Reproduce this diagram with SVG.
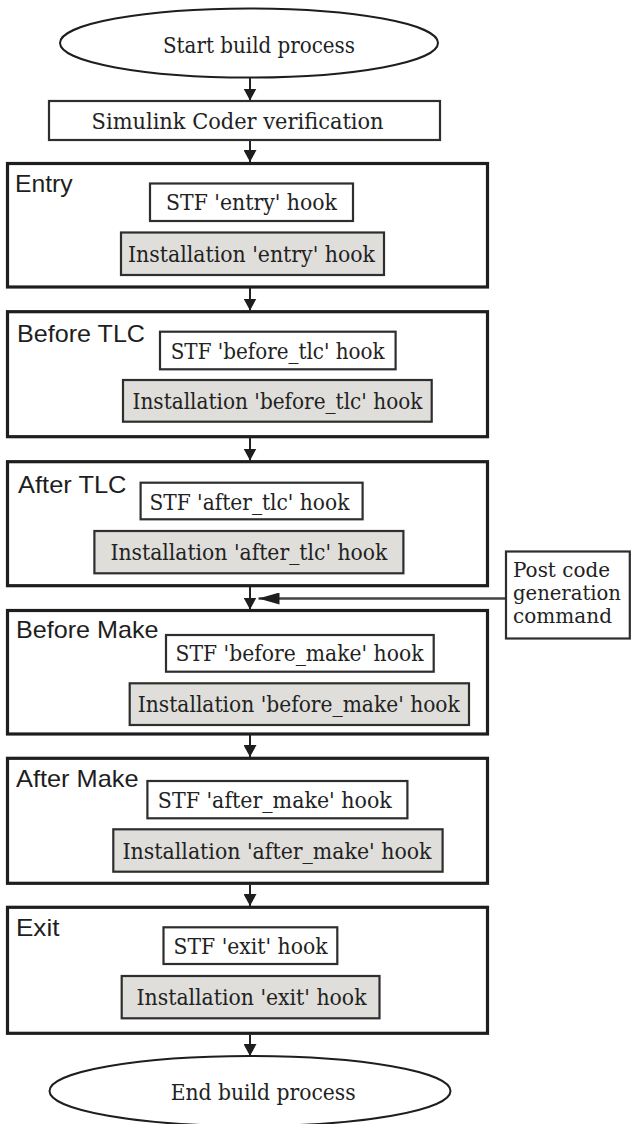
<svg xmlns="http://www.w3.org/2000/svg" width="631" height="1124" viewBox="0 0 631 1124">
<style>
.stage{fill:#fff;stroke:#1e1e1e;stroke-width:3.2}
.stf{fill:#fff;stroke:#2e2e2e;stroke-width:2.2}
.inst{fill:#dfdedb;stroke:#2e2e2e;stroke-width:2.2}
.term{fill:#fff;stroke:#1e1e1e;stroke-width:2}
.serif{font-family:"DejaVu Serif","Liberation Serif",serif;font-size:22px;fill:#222}
.note{font-family:"DejaVu Serif","Liberation Serif",serif;font-size:20px;fill:#222}
.sans{font-family:"Liberation Sans",Arial,sans-serif;font-size:24px;fill:#1e1e1e}
.conn{stroke:#222;stroke-width:2;fill:none}
.conn2{stroke:#444;stroke-width:2.6;fill:none}
</style>
<defs>
<marker id="ah" markerUnits="userSpaceOnUse" markerWidth="14" markerHeight="13" refX="12" refY="6.5" orient="auto">
<path d="M0,0 L12,6.5 L0,13 Z" fill="#1e1e1e"/>
</marker>
<marker id="ahL" markerUnits="userSpaceOnUse" markerWidth="22" markerHeight="12" refX="21" refY="6" orient="auto">
<path d="M0,0 L21,6 L0,12 Z" fill="#1e1e1e"/>
</marker>
</defs>

<g id="connectors">
<line class="conn" x1="250" y1="77.5" x2="250" y2="100.5" marker-end="url(#ah)"/>
<line class="conn" x1="250" y1="140" x2="250" y2="162" marker-end="url(#ah)"/>
<line class="conn" x1="250" y1="288" x2="250" y2="310.5" marker-end="url(#ah)"/>
<line class="conn" x1="250" y1="438" x2="250" y2="460.5" marker-end="url(#ah)"/>
<line class="conn" x1="250" y1="587" x2="250" y2="609.5" marker-end="url(#ah)"/>
<line class="conn" x1="250" y1="735" x2="250" y2="757" marker-end="url(#ah)"/>
<line class="conn" x1="250" y1="884.5" x2="250" y2="906" marker-end="url(#ah)"/>
<line class="conn" x1="250" y1="1034.5" x2="250" y2="1056" marker-end="url(#ah)"/>
<line class="conn2" x1="506" y1="598.5" x2="258.5" y2="598.5" marker-end="url(#ahL)"/>
</g>

<g id="start">
<ellipse class="term" cx="249" cy="43" rx="189" ry="34.5"/>
<text class="serif" x="163" y="52.5" textLength="192" lengthAdjust="spacingAndGlyphs">Start build process</text>
</g>

<g id="verify">
<rect class="stf" x="49" y="101" width="391" height="39"/>
<text class="serif" x="91.6" y="129" textLength="292" lengthAdjust="spacingAndGlyphs">Simulink Coder verification</text>
</g>

<g id="entry">
<rect class="stage" x="7.5" y="163.5" width="480" height="123.5"/>
<text class="sans" x="15" y="191.7" textLength="57.7" lengthAdjust="spacingAndGlyphs">Entry</text>
<rect class="stf" x="150" y="183.5" width="203" height="37.5"/>
<text class="serif" x="166" y="210" textLength="171" lengthAdjust="spacingAndGlyphs">STF 'entry' hook</text>
<rect class="inst" x="121" y="232.5" width="263" height="42.5"/>
<text class="serif" x="128" y="261.5" textLength="247" lengthAdjust="spacingAndGlyphs">Installation 'entry' hook</text>
</g>

<g id="before_tlc">
<rect class="stage" x="7.5" y="311.7" width="480" height="125"/>
<text class="sans" x="17" y="341.7" textLength="128" lengthAdjust="spacingAndGlyphs">Before TLC</text>
<rect class="stf" x="160" y="331.7" width="235.6" height="37.6"/>
<text class="serif" x="170.7" y="358.5" textLength="214" lengthAdjust="spacingAndGlyphs">STF 'before_tlc' hook</text>
<rect class="inst" x="123" y="380" width="308.7" height="41.7"/>
<text class="serif" x="132.5" y="409" textLength="290" lengthAdjust="spacingAndGlyphs">Installation 'before_tlc' hook</text>
</g>

<g id="after_tlc">
<rect class="stage" x="7.5" y="461.7" width="480" height="124"/>
<text class="sans" x="18" y="493" textLength="108.5" lengthAdjust="spacingAndGlyphs">After TLC</text>
<rect class="stf" x="140.6" y="482.7" width="222" height="36.6"/>
<text class="serif" x="149.4" y="509.5" textLength="200" lengthAdjust="spacingAndGlyphs">STF 'after_tlc' hook</text>
<rect class="inst" x="94.4" y="531" width="309" height="42.3"/>
<text class="serif" x="110.4" y="559.5" textLength="277" lengthAdjust="spacingAndGlyphs">Installation 'after_tlc' hook</text>
</g>

<g id="post_code">
<rect class="stf" x="506" y="551.5" width="123.8" height="87"/>
<text class="note" x="513" y="577" textLength="97" lengthAdjust="spacingAndGlyphs">Post code</text>
<text class="note" x="513" y="600" textLength="108" lengthAdjust="spacingAndGlyphs">generation</text>
<text class="note" x="513" y="623" textLength="99" lengthAdjust="spacingAndGlyphs">command</text>
</g>

<g id="before_make">
<rect class="stage" x="7.5" y="610.5" width="480" height="123.5"/>
<text class="sans" x="16" y="638" textLength="142.6" lengthAdjust="spacingAndGlyphs">Before Make</text>
<rect class="stf" x="166" y="635" width="267.7" height="36.7"/>
<text class="serif" x="175.5" y="661.3" textLength="248" lengthAdjust="spacingAndGlyphs">STF 'before_make' hook</text>
<rect class="inst" x="129.7" y="683.3" width="339.3" height="41.7"/>
<text class="serif" x="137.8" y="712" textLength="322" lengthAdjust="spacingAndGlyphs">Installation 'before_make' hook</text>
</g>

<g id="after_make">
<rect class="stage" x="7.5" y="758.3" width="480" height="125"/>
<text class="sans" x="16" y="786.7" textLength="122.5" lengthAdjust="spacingAndGlyphs">After Make</text>
<rect class="stf" x="147.4" y="781" width="260" height="37.3"/>
<text class="serif" x="157.8" y="807.7" textLength="234" lengthAdjust="spacingAndGlyphs">STF 'after_make' hook</text>
<rect class="inst" x="113.3" y="829.3" width="329.3" height="42.4"/>
<text class="serif" x="122.5" y="858.5" textLength="309" lengthAdjust="spacingAndGlyphs">Installation 'after_make' hook</text>
</g>

<g id="exit">
<rect class="stage" x="7.5" y="907.3" width="480" height="126"/>
<text class="sans" x="16" y="936" textLength="43.4" lengthAdjust="spacingAndGlyphs">Exit</text>
<rect class="stf" x="163.5" y="927.3" width="173.8" height="36.7"/>
<text class="serif" x="173.5" y="953.7" textLength="154" lengthAdjust="spacingAndGlyphs">STF 'exit' hook</text>
<rect class="inst" x="121.7" y="976" width="257.8" height="42.3"/>
<text class="serif" x="136.5" y="1005" textLength="230" lengthAdjust="spacingAndGlyphs">Installation 'exit' hook</text>
</g>

<g id="end">
<ellipse class="term" cx="250" cy="1091" rx="200.5" ry="35"/>
<text class="serif" x="170.7" y="1100" textLength="185" lengthAdjust="spacingAndGlyphs">End build process</text>
</g>
</svg>
